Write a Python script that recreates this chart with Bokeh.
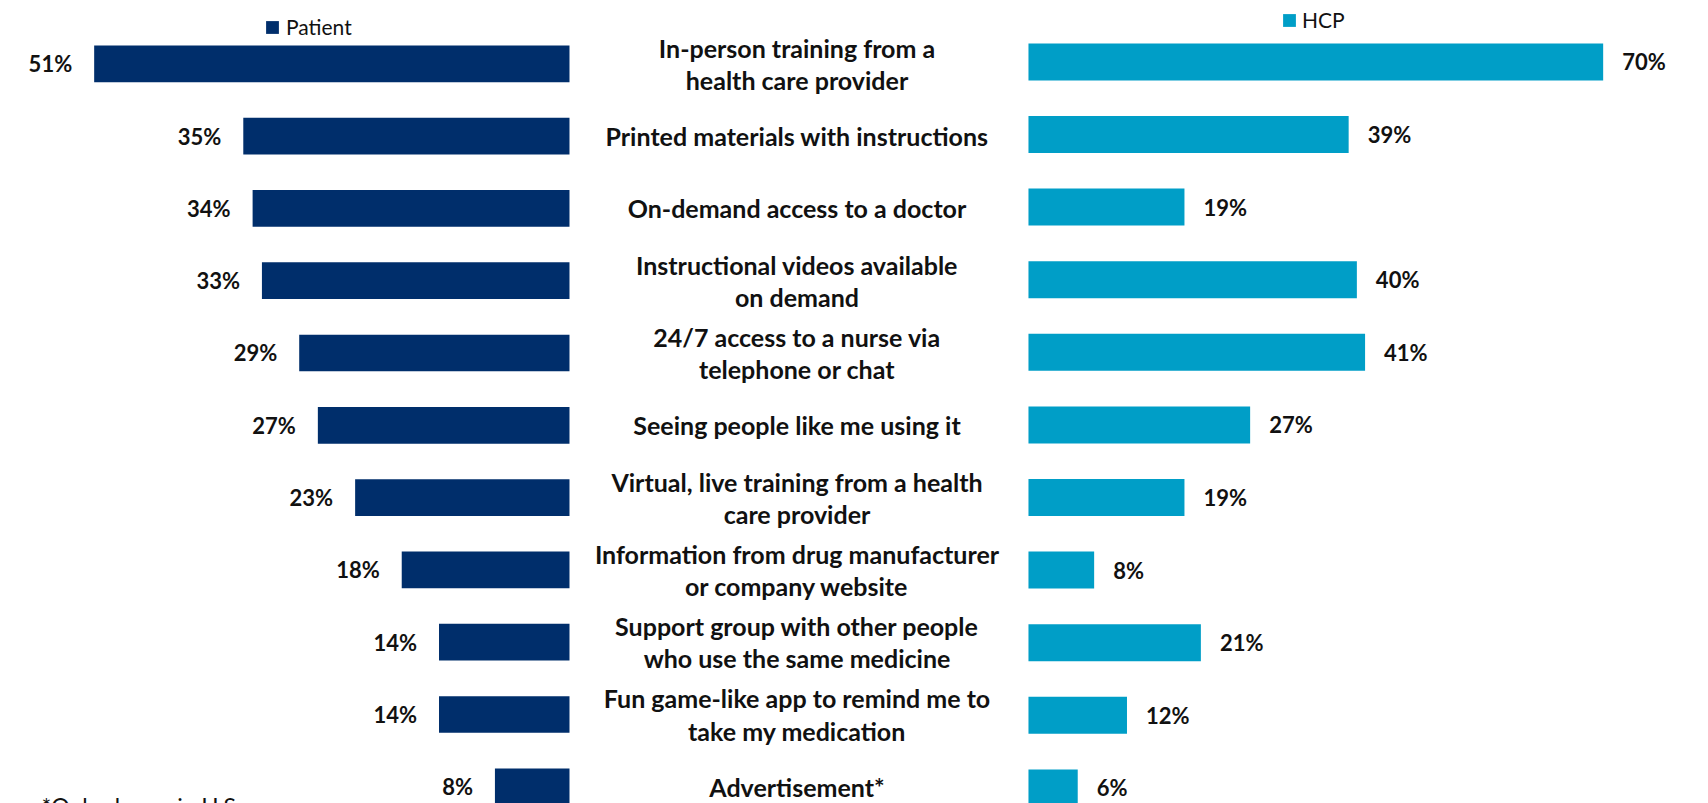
from bokeh.plotting import figure
from bokeh.models import Range1d, ColumnDataSource, Legend, LegendItem, Label
from bokeh.core.properties import value
from bokeh.embed import file_html
from bokeh.resources import INLINE

# ---- data ----
categories = [
    "In-person training from a\nhealth care provider",
    "Printed materials with instructions",
    "On-demand access to a doctor",
    "Instructional videos available\non demand",
    "24/7 access to a nurse via\ntelephone or chat",
    "Seeing people like me using it",
    "Virtual, live training from a health\ncare provider",
    "Information from drug manufacturer\nor company website",
    "Support group with other people\nwho use the same medicine",
    "Fun game-like app to remind me to\ntake my medication",
    "Advertisement*",
]
patient = [51, 35, 34, 33, 29, 27, 23, 18, 14, 14, 8]
hcp = [70, 39, 19, 40, 41, 27, 19, 8, 21, 12, 6]
series_names = ["Patient", "HCP"]
footnote = "*Only shown in U.S."

PAT_COLOR = "#002E6B"
HCP_COLOR = "#009EC7"
TEXT_COLOR = "#111111"

W, H = 1708, 803
rows = list(range(len(categories)))

p = figure(width=W, height=H, output_backend="svg", toolbar_location=None,
           x_range=Range1d(0, W), y_range=Range1d(start=10.231, end=-0.8755),
           min_border=0, min_border_left=0, min_border_right=0,
           min_border_top=0, min_border_bottom=0)
p.axis.visible = False
p.grid.visible = False
p.outline_line_color = None
p.background_fill_color = "white"
p.border_fill_color = "white"

# separate scales for the two halves
p.extra_x_ranges = {
    "pat": Range1d(start=61.05, end=-122.21),
    "hcp": Range1d(start=-125.21, end=82.83),
}
p.extra_y_ranges = {"hcp_y": Range1d(start=10.215, end=-0.8457)}

src = ColumnDataSource(dict(
    y=rows,
    cat=categories,
    pat=patient,
    hcp=hcp,
    pat_lbl=[f"{v}%" for v in patient],
    hcp_lbl=[f"{v}%" for v in hcp],
    cx=[796.5] * len(rows),
))

r_pat = p.hbar(y="y", left=0, right="pat", height=0.508, source=src,
               x_range_name="pat", fill_color=PAT_COLOR, line_color=None)
r_hcp = p.hbar(y="y", left=0, right="hcp", height=0.51, source=src,
               x_range_name="hcp", y_range_name="hcp_y",
               fill_color=HCP_COLOR, line_color=None)

# value labels
p.text(x="pat", y="y", text="pat_lbl", source=src, x_range_name="pat",
       x_offset=-22, text_align="right", text_baseline="middle",
       text_font=value("Lato"), text_font_style="bold",
       text_font_size="22px", text_color=TEXT_COLOR)
p.text(x="hcp", y="y", text="hcp_lbl", source=src, x_range_name="hcp",
       y_range_name="hcp_y",
       x_offset=19, text_align="left", text_baseline="middle",
       text_font=value("Lato"), text_font_style="bold",
       text_font_size="22px", text_color=TEXT_COLOR)

# category labels
p.text(x="cx", y="y", text="cat", source=src,
       text_align="center", text_baseline="middle",
       text_font=value("Lato"), text_font_style="bold",
       text_font_size="25px", text_line_height=1.07, text_color=TEXT_COLOR)

# legends
def make_legend(label, rend, loc, size, standoff):
    return Legend(items=[LegendItem(label=label, renderers=[rend])],
                  location=loc, orientation="horizontal",
                  glyph_width=16, glyph_height=16, label_standoff=standoff,
                  padding=0, margin=0, spacing=0,
                  border_line_color=None, background_fill_alpha=0,
                  label_text_font="Lato", label_text_font_size=size,
                  label_text_color=TEXT_COLOR)

p.add_layout(make_legend(series_names[0], r_pat, (264, 764), "21px", 6))
p.add_layout(make_legend(series_names[1], r_hcp, (1281, 771), "21px", 5))

p.add_layout(Label(x=41, y=12, x_units="screen", y_units="screen",
                   text=footnote, text_baseline="top",
                   text_font="Lato", text_font_size="23px",
                   text_color=TEXT_COLOR))

open("out.html", "w").write(file_html(p, INLINE))
